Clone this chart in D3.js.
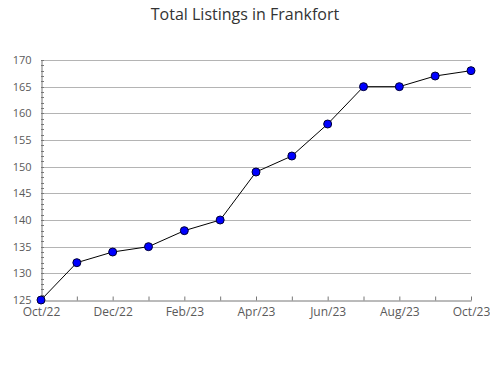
<!DOCTYPE html>
<html lang="en">
<head>
  <meta charset="UTF-8">
  <title>Total Listings in Frankfort</title>
  <style>
    body, html {
        margin: 0;
        padding: 0;
        background-color: #fff;
        font-family: "Open Sans";
    }
  </style>
</head>
<body>
<svg id="chart" width="490" height="380"></svg>

<script src="https://cdn.jsdelivr.net/npm/d3@7"></script>
<script>
var months = ["Oct/22", "Nov/22", "Dec/22", "Jan/23", "Feb/23", "Mar/23", "Apr/23",
              "May/23", "Jun/23", "Jul/23", "Aug/23", "Sep/23", "Oct/23"];
var listings = [125, 132, 134, 135, 138, 140, 149, 152, 158, 165, 165, 167, 168];
var yTicks = [125, 130, 135, 140, 145, 150, 155, 160, 165, 170];

var svg = d3.select("#chart"),
  plotLeft = 41, plotRight = 471, plotTop = 60, plotBottom = 300;

var x = d3.scalePoint().domain(months).range([plotLeft, plotRight]);
var y = d3.scaleLinear().domain([125, 170]).range([plotBottom, plotTop]);

// title
svg.append("text")
  .attr("x", 245).attr("y", 20)
  .attr("text-anchor", "middle")
  .attr("font-size", 16)
  .attr("fill", "#333")
  .text("Total Listings in Frankfort");

// grid lines
svg.append("g")
  .selectAll("line")
  .data(yTicks.slice(1))
  .join("line")
  .attr("x1", plotLeft).attr("x2", plotRight)
  .attr("y1", function (d) { return Math.round(y(d)) + 0.5; })
  .attr("y2", function (d) { return Math.round(y(d)) + 0.5; })
  .attr("stroke", "#b4b4b4");

// minor y ticks, one per unit
var minor = d3.range(125, 171);
svg.append("g")
  .selectAll("line")
  .data(minor)
  .join("line")
  .attr("x1", plotLeft).attr("x2", plotLeft + 3)
  .attr("y1", function (d) { return Math.round(y(d)) + 0.5; })
  .attr("y2", function (d) { return Math.round(y(d)) + 0.5; })
  .attr("stroke", "#777");

// y axis
var yAxis = d3.axisLeft(y).tickValues(yTicks).tickSize(0).tickPadding(10);
var gy = svg.append("g").attr("transform", "translate(" + (plotLeft + 0.5) + ",0)").call(yAxis);
gy.select(".domain").attr("stroke", "#777");
gy.selectAll("text").attr("font-family", "Open Sans").attr("font-size", 11).attr("fill", "#5a5a5a");

// x axis, ticks pointing inward
var xAxis = d3.axisBottom(x).tickSizeInner(-4).tickSizeOuter(0).tickPadding(5)
  .tickFormat(function (d, i) { return i % 2 === 0 ? d : ""; });
var gx = svg.append("g").attr("transform", "translate(0," + (plotBottom + 0.5) + ")").call(xAxis);
gx.select(".domain").attr("stroke", "#777");
gx.selectAll("line").attr("stroke", "#777");
gx.selectAll("text").attr("font-family", "Open Sans").attr("font-size", 12).attr("fill", "#5a5a5a")
  .attr("dy", "0.9em");

// line
var line = d3.line()
  .x(function (d, i) { return x(months[i]); })
  .y(function (d) { return y(d); });

svg.append("path")
  .datum(listings)
  .attr("d", line)
  .attr("fill", "none")
  .attr("stroke", "#000")
  .attr("stroke-width", 1);

// markers
svg.append("g")
  .selectAll("circle")
  .data(listings)
  .join("circle")
  .attr("cx", function (d, i) { return x(months[i]); })
  .attr("cy", function (d) { return y(d); })
  .attr("r", 4)
  .attr("fill", "#0000ff")
  .attr("stroke", "#000033")
  .attr("stroke-width", 1);
</script>
</body>
</html>
